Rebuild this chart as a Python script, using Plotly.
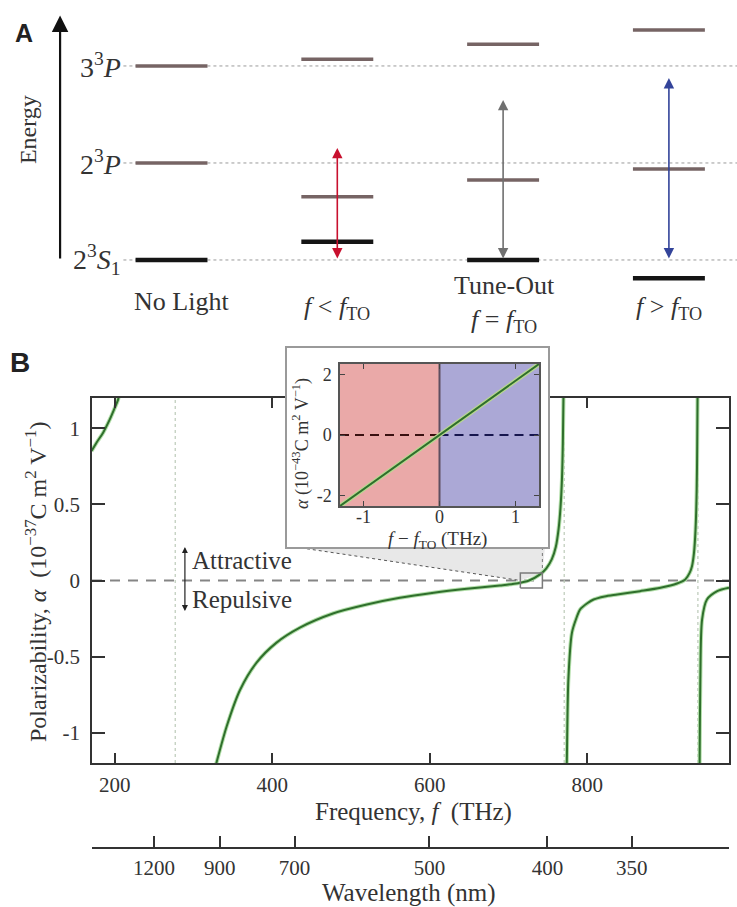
import plotly.graph_objects as go

W, H = 737, 907
SERIF = "Liberation Serif"
SANS = "Liberation Sans"
INK = "#333333"

# ---------------- Panel A: light-shifted energy levels ----------------
column_pos = [0, 1, 2, 3]
column_labels = [
    "No Light",
    "<i>f</i> &lt; <i>f</i><sub>TO</sub>",
    "Tune-Out<br><i>f</i> = <i>f</i><sub>TO</sub>",
    "<i>f</i> &gt; <i>f</i><sub>TO</sub>",
]
column_label_shift = [0.06, 0.0, 0.01, 0.0]
column_label_energy = [-0.43, -0.50, -0.454, -0.50]
state_labels = ["2<sup>3</sup><i>S</i><sub>1</sub>", "2<sup>3</sup><i>P</i>", "3<sup>3</sup><i>P</i>"]
unperturbed_energy = [0.0, 1.0, 2.0]
level_2S = [0.0, 0.189, 0.0, -0.189]
level_2P = [1.0, 0.653, 0.825, 0.938]
level_3P = [2.0, 2.069, 2.224, 2.371]
photon_energy = [None, 1.155, 1.65, 1.876]
photon_colors = [None, "#c8102e", "#707070", "#33449a"]
level_half_width = 0.217

# ---------------- Panel B: polarizability vs frequency ----------------
freq_range = [171, 980]
alpha_range = [-1.2, 1.2]
freq_ticks = [200, 400, 600, 800]
alpha_ticks = [-1, -0.5, 0, 0.5, 1]
alpha_ticktext = ["-1", "-0.5", "0", "0.5", "1"]
wavelength_ticks_nm = [1200, 900, 700, 500, 400, 350]
resonance_thz = [276.7, 770.7, 940.5]

branch1_f = [170.4, 176.7, 185.1, 193.6, 200.0, 204.2, 206.0]
branch1_a = [0.851, 0.906, 0.972, 1.059, 1.136, 1.191, 1.25]

branch2_f = [324, 329, 342, 359, 380, 405, 435, 477, 520, 562, 605, 647, 689, 712, 726,
             740, 748, 755, 760, 763.6, 766, 767.8, 769, 770]
branch2_a = [-1.30, -1.20, -0.96, -0.72, -0.54, -0.41, -0.31, -0.217, -0.158, -0.114, -0.081,
             -0.055, -0.033, -0.018, 0.0, 0.04, 0.08, 0.14, 0.22, 0.34, 0.48, 0.66, 0.9, 1.3]

branch3_f = [773.5, 774, 776, 780.5, 786, 791, 800, 808, 822, 838, 867, 893, 914, 924.5,
             930, 933, 935.5, 937.5, 939, 939.6, 940.2]
branch3_a = [-1.3, -1.2, -0.65, -0.344, -0.25, -0.19, -0.15, -0.125, -0.105, -0.092, -0.07,
             -0.048, -0.02, 0.007, 0.05, 0.094, 0.18, 0.336, 0.6, 0.88, 1.3]

branch4_f = [942.5, 942.7, 943.6, 945.8, 952, 965, 980]
branch4_a = [-1.3, -1.2, -0.65, -0.257, -0.125, -0.07, -0.048]

zoom_box_f = [715, 743]
zoom_box_a = [-0.05, 0.05]

# inset: polarizability near the tune-out frequency
inset_df = [-1.31, 1.31]
inset_alpha = [-2.35, 2.35]
inset_xrange = [-1.31, 1.31]
inset_yrange = [-2.35, 2.35]
inset_xticks = [-1, 0, 1]
inset_yticks = [-2, 0, 2]

C_NM_THZ = 299792.458  # speed of light in nm*THz


def px(x):
    return x / W


def py(y):
    return 1 - y / H


# subplot placement (pixels)
MAIN_X = (92, 729)
MAIN_Y = (398, 763)
FRAME_X = (287, 548)
FRAME_Y = (348, 547)
INSET_X = (340, 539)
INSET_Y = (364, 506)
PANEL_A_BOTTOM = 340


def main_data_from_px(x, y):
    f = freq_range[0] + (x - MAIN_X[0]) / (MAIN_X[1] - MAIN_X[0]) * (freq_range[1] - freq_range[0])
    a = alpha_range[1] - (y - MAIN_Y[0]) / (MAIN_Y[1] - MAIN_Y[0]) * (alpha_range[1] - alpha_range[0])
    return f, a


fig = go.Figure()

# ---- Panel A traces ----
for e in unperturbed_energy:
    fig.add_trace(go.Scatter(x=[-0.29, 3.45], y=[e, e], mode="lines",
                             line=dict(color="#9a9a9a", width=1, dash="dot"),
                             xaxis="x2", yaxis="y2", hoverinfo="skip"))


def level_segments(energies):
    xs, ys = [], []
    for p, e in zip(column_pos, energies):
        xs += [p - level_half_width, p + level_half_width, None]
        ys += [e, e, None]
    return xs, ys


for energies, color, width in [(level_3P, "#766464", 3.5), (level_2P, "#766464", 3.5),
                               (level_2S, "#151515", 4.5)]:
    xs, ys = level_segments(energies)
    fig.add_trace(go.Scatter(x=xs, y=ys, mode="lines", line=dict(color=color, width=width),
                             xaxis="x2", yaxis="y2", hoverinfo="skip"))

# ---- Panel B traces ----
fig.add_trace(go.Scatter(x=freq_range, y=[0, 0], mode="lines",
                         line=dict(color="#858585", width=2, dash="10px,8px"), hoverinfo="skip"))
for f in resonance_thz:
    fig.add_trace(go.Scatter(x=[f, f], y=alpha_range, mode="lines",
                             line=dict(color="#bccab8", width=1.2, dash="dot"), hoverinfo="skip"))

# shaded wedge linking the zoom window to the inset
f_left, a_top = main_data_from_px(FRAME_X[0] + 8, FRAME_Y[1])
f_right, _ = main_data_from_px(FRAME_X[1] - 3, FRAME_Y[1])
fig.add_trace(go.Scatter(x=[f_left, f_right, zoom_box_f[1], zoom_box_f[0], f_left],
                         y=[a_top, a_top, zoom_box_a[1], 0.0, a_top],
                         mode="lines", fill="toself", fillcolor="#e8e8e8",
                         line=dict(width=0), hoverinfo="skip"))
fig.add_trace(go.Scatter(x=[f_left, zoom_box_f[0]], y=[a_top, 0.0], mode="lines",
                         line=dict(color="#555555", width=1, dash="dot"), hoverinfo="skip"))
fig.add_trace(go.Scatter(x=[zoom_box_f[1], zoom_box_f[1]], y=[a_top, zoom_box_a[1]], mode="lines",
                         line=dict(color="#777777", width=1, dash="dot"), hoverinfo="skip"))

for bf, ba in [(branch1_f, branch1_a), (branch2_f, branch2_a),
               (branch3_f, branch3_a), (branch4_f, branch4_a)]:
    fig.add_trace(go.Scatter(x=bf, y=ba, mode="lines",
                             line=dict(color="#b3dfaa", width=4, shape="spline", smoothing=0.8),
                             hoverinfo="skip"))
    fig.add_trace(go.Scatter(x=bf, y=ba, mode="lines",
                             line=dict(color="#2f6f2c", width=2, shape="spline", smoothing=0.8),
                             hoverinfo="skip"))

fig.add_trace(go.Scatter(x=[zoom_box_f[0], zoom_box_f[1], zoom_box_f[1], zoom_box_f[0], zoom_box_f[0]],
                         y=[zoom_box_a[0], zoom_box_a[0], zoom_box_a[1], zoom_box_a[1], zoom_box_a[0]],
                         mode="lines", line=dict(color="#7a7a7a", width=1.5), hoverinfo="skip"))

# wavelength axis carrier (invisible)
wl_tick_freqs = [C_NM_THZ / wl for wl in wavelength_ticks_nm]
fig.add_trace(go.Scatter(x=wl_tick_freqs, y=[0] * len(wl_tick_freqs), mode="markers",
                         marker=dict(opacity=0), xaxis="x3", yaxis="y", hoverinfo="skip"))

# inset frame (white card with grey border)
fig.add_trace(go.Scatter(x=[0, 1], y=[0, 1], mode="none", xaxis="x4", yaxis="y4", hoverinfo="skip"))

# ---- Inset traces ----
x0, x1 = inset_xrange
y0, y1 = inset_yrange
fig.add_trace(go.Scatter(x=[x0, 0, 0, x0, x0], y=[y0, y0, y1, y1, y0], mode="lines", fill="toself",
                         fillcolor="#eaa9a8", line=dict(width=0), xaxis="x5", yaxis="y5", hoverinfo="skip"))
fig.add_trace(go.Scatter(x=[0, x1, x1, 0, 0], y=[y0, y0, y1, y1, y0], mode="lines", fill="toself",
                         fillcolor="#aba8d6", line=dict(width=0), xaxis="x5", yaxis="y5", hoverinfo="skip"))
fig.add_trace(go.Scatter(x=[0, 0], y=[y0, y1], mode="lines", line=dict(color="#5e4e60", width=2),
                         xaxis="x5", yaxis="y5", hoverinfo="skip"))
fig.add_trace(go.Scatter(x=[x0, 0], y=[0, 0], mode="lines",
                         line=dict(color="#3a1010", width=1.8, dash="9px,6px"),
                         xaxis="x5", yaxis="y5", hoverinfo="skip"))
fig.add_trace(go.Scatter(x=[0, x1], y=[0, 0], mode="lines",
                         line=dict(color="#16164e", width=1.8, dash="9px,6px"),
                         xaxis="x5", yaxis="y5", hoverinfo="skip"))
fig.add_trace(go.Scatter(x=inset_df, y=inset_alpha, mode="lines", line=dict(color="#b8d890", width=4.5),
                         xaxis="x5", yaxis="y5", hoverinfo="skip"))
fig.add_trace(go.Scatter(x=inset_df, y=inset_alpha, mode="lines", line=dict(color="#2f6f2c", width=2),
                         xaxis="x5", yaxis="y5", hoverinfo="skip"))

# ---------------- annotations ----------------
ann = []


def paper_text(text, x, y, size, angle=0, family=SERIF, color=INK):
    ann.append(dict(text=text, x=px(x), y=py(y), xref="paper", yref="paper", xanchor="center",
                    yanchor="middle", showarrow=False, textangle=angle,
                    font=dict(family=family, size=size, color=color)))


# panel letters
paper_text("<b>A</b>", 24, 33, 25, family=SANS, color="#222")
paper_text("<b>B</b>", 20, 362, 28, family=SANS, color="#222")

# energy axis arrow
ann.append(dict(x=-0.672, y=2.52, ax=-0.672, ay=0.0, xref="x2", yref="y2", axref="x2", ayref="y2",
                text="", showarrow=True, arrowhead=2, arrowsize=1.5, arrowwidth=2.2, arrowcolor="#111"))
ann.append(dict(text="Energy", x=-0.865, y=1.34, xref="x2", yref="y2", xanchor="center",
                yanchor="middle", showarrow=False, textangle=-90,
                font=dict(family=SERIF, size=24, color=INK)))
for lbl, e in zip(state_labels, unperturbed_energy):
    ann.append(dict(text=lbl, x=-0.29, y=e, xref="x2", yref="y2", xanchor="right", yanchor="middle",
                    showarrow=False, font=dict(family=SERIF, size=28, color=INK)))
for p, dx, lbl, e in zip(column_pos, column_label_shift, column_labels, column_label_energy):
    ann.append(dict(text=lbl, x=p + dx, y=e, xref="x2", yref="y2", xanchor="center", yanchor="middle",
                    showarrow=False, font=dict(family=SERIF, size=26, color=INK)))
for p, e, c in zip(column_pos, photon_energy, photon_colors):
    if e is None:
        continue
    ann.append(dict(x=p, y=e, ax=p, ay=0.0, xref="x2", yref="y2", axref="x2", ayref="y2", text="",
                    showarrow=True, arrowside="end+start", arrowhead=2, arrowsize=1.3,
                    arrowwidth=1.6, arrowcolor=c))

# attractive / repulsive marker
ann.append(dict(x=289, y=0.22, ax=289, ay=-0.21, xref="x", yref="y", axref="x", ayref="y", text="",
                showarrow=True, arrowside="end+start", arrowhead=2, arrowsize=1.0, arrowwidth=1.2,
                arrowcolor="#222"))
ann.append(dict(text="Attractive", x=296, y=0.13, xref="x", yref="y", xanchor="left", yanchor="middle",
                showarrow=False, font=dict(family=SERIF, size=25, color=INK)))
ann.append(dict(text="Repulsive", x=296, y=-0.125, xref="x", yref="y", xanchor="left", yanchor="middle",
                showarrow=False, font=dict(family=SERIF, size=25, color=INK)))

# axis titles
paper_text("Frequency, <i>f</i>  (THz)", 413, 812, 25)
paper_text("Wavelength (nm)", 409, 893, 25)
paper_text("Polarizability, <i>α</i>  (10<sup>−37</sup>C m<sup>2</sup> V<sup>−1</sup>)", 36, 582, 24, angle=-90)
paper_text("<i>α</i> (10<sup>−43</sup>C m<sup>2</sup> V<sup>−1</sup>)", 301, 444, 18, angle=-90)
paper_text("<i>f</i> − <i>f</i><sub>TO</sub> (THz)", 438, 540, 19)

tickfont = dict(family=SERIF, size=21, color=INK)
inset_tickfont = dict(family=SERIF, size=18, color=INK)

fig.update_layout(
    width=W, height=H, margin=dict(l=0, r=0, t=0, b=0),
    paper_bgcolor="white", plot_bgcolor="white", showlegend=False,
    annotations=ann,
    xaxis=dict(domain=[px(MAIN_X[0]), px(MAIN_X[1])], range=freq_range, tickvals=freq_ticks,
               ticks="inside", ticklen=10, tickwidth=1.5, tickcolor=INK, showline=True, linecolor=INK,
               linewidth=1.5, mirror="ticks", showgrid=False, zeroline=False, tickfont=tickfont,
               ticklabelstandoff=2, anchor="y"),
    yaxis=dict(domain=[py(MAIN_Y[1]), py(MAIN_Y[0])], range=alpha_range, tickvals=alpha_ticks,
               ticktext=alpha_ticktext, ticks="inside", ticklen=13, tickwidth=1.5, tickcolor=INK,
               showline=True, linecolor=INK, linewidth=1.5, mirror="ticks", showgrid=False,
               zeroline=False, tickfont=tickfont, ticklabelstandoff=6, anchor="x"),
    xaxis3=dict(overlaying="x", anchor="free", position=py(848), side="bottom", range=freq_range,
                tickvals=[freq_range[0]] + wl_tick_freqs + [freq_range[1]],
                ticktext=[""] + [str(w) for w in wavelength_ticks_nm] + [""],
                ticks="inside", ticklen=11, tickwidth=1.5, tickcolor=INK, showline=True, linecolor=INK,
                linewidth=1.5, showgrid=False, zeroline=False, tickfont=tickfont, ticklabelstandoff=1),
    xaxis2=dict(domain=[0, 1], range=[-1.0344, 3.4107], visible=False, anchor="y2"),
    yaxis2=dict(domain=[py(PANEL_A_BOTTOM), 1], range=[-0.825, 2.680], visible=False, anchor="x2"),
    xaxis4=dict(domain=[px(FRAME_X[0]), px(FRAME_X[1])], range=[0, 1], showline=True, mirror=True,
                linecolor="#9a9a9a", linewidth=2, ticks="", showticklabels=False, showgrid=False,
                zeroline=False, anchor="y4"),
    yaxis4=dict(domain=[py(FRAME_Y[1]), py(FRAME_Y[0])], range=[0, 1], showline=True, mirror=True,
                linecolor="#9a9a9a", linewidth=2, ticks="", showticklabels=False, showgrid=False,
                zeroline=False, anchor="x4"),
    xaxis5=dict(domain=[px(INSET_X[0]), px(INSET_X[1])], range=inset_xrange, tickvals=inset_xticks,
                ticktext=["-1", "0", "1"], ticks="inside", ticklen=5, tickcolor="#444", showline=True,
                linecolor="#555", linewidth=1.5, mirror="ticks", showgrid=False, zeroline=False,
                tickfont=inset_tickfont, ticklabelstandoff=-6, anchor="y5"),
    yaxis5=dict(domain=[py(INSET_Y[1]), py(INSET_Y[0])], range=inset_yrange, tickvals=inset_yticks,
                ticktext=["-2", "0", "2"], ticks="inside", ticklen=5, tickcolor="#444", showline=True,
                linecolor="#555", linewidth=1.5, mirror="ticks", showgrid=False, zeroline=False,
                tickfont=inset_tickfont, ticklabelstandoff=3, anchor="x5"),
)

fig.write_html("out.html")
